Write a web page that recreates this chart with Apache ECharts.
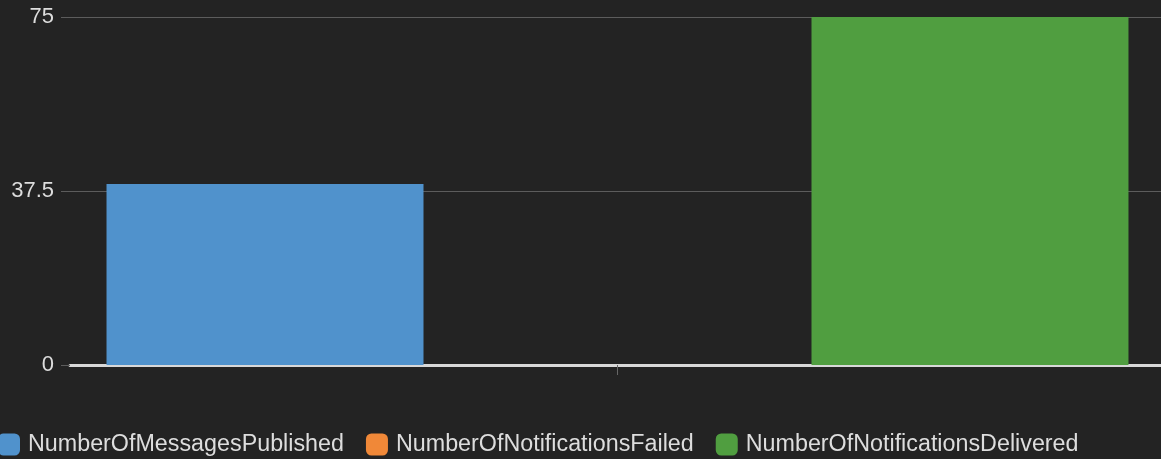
<!DOCTYPE html>
<html>
<head>
<meta charset="utf-8">
<style>
html,body{margin:0;padding:0;background:#232323;}
#chart{width:1161px;height:459px;}
</style>
<script src="https://cdn.jsdelivr.net/npm/echarts@6/dist/echarts.min.js"></script>
</head>
<body>
<div id="chart"></div>
<script>
const categories = [''];
const seriesNames = ['NumberOfMessagesPublished', 'NumberOfNotificationsFailed', 'NumberOfNotificationsDelivered'];
const messagesPublished = [39];
const notificationsFailed = [0];
const notificationsDelivered = [75];
const seriesColors = ['#5092cc', '#f08838', '#509e40'];
const yMin = 0, yMax = 75, yInterval = 37.5;

const chart = echarts.init(document.getElementById('chart'), null, {renderer: 'canvas'});
const values = [messagesPublished, notificationsFailed, notificationsDelivered];
chart.setOption({
  backgroundColor: '#232323',
  animation: false,
  textStyle: {fontFamily: 'Liberation Sans, Arial, sans-serif'},
  grid: {left: 70, width: 1095, top: 17, bottom: 94, containLabel: false, outerBoundsMode: 'none'},
  legend: {
    left: -2, top: 433, padding: 0, itemWidth: 22, itemHeight: 22, itemGap: 22,
    icon: 'roundRect',
    textStyle: {color: '#dddddd', fontSize: 23.3, padding: [0, 0, 0, 3]},
    data: seriesNames
  },
  xAxis: {
    type: 'category', data: categories,
    axisLine: {show: true, lineStyle: {color: '#d8d8d8', width: 3}},
    axisTick: {show: true, alignWithLabel: true, length: 10, lineStyle: {color: '#666666', width: 1}},
    axisLabel: {show: false}
  },
  yAxis: {
    type: 'value', min: yMin, max: yMax, interval: yInterval,
    axisLine: {show: false},
    axisTick: {show: true, length: 9, lineStyle: {color: '#5c5c5c'}},
    axisLabel: {color: '#dddddd', fontSize: 22, margin: 16},
    splitLine: {show: true, lineStyle: {color: '#5c5c5c', width: 1}}
  },
  series: seriesNames.map((n, i) => ({
    name: n, type: 'bar', data: values[i],
    barCategoryGap: '6.67%', barGap: '11.2%',
    itemStyle: {color: seriesColors[i]}
  }))
});
</script>
</body>
</html>
